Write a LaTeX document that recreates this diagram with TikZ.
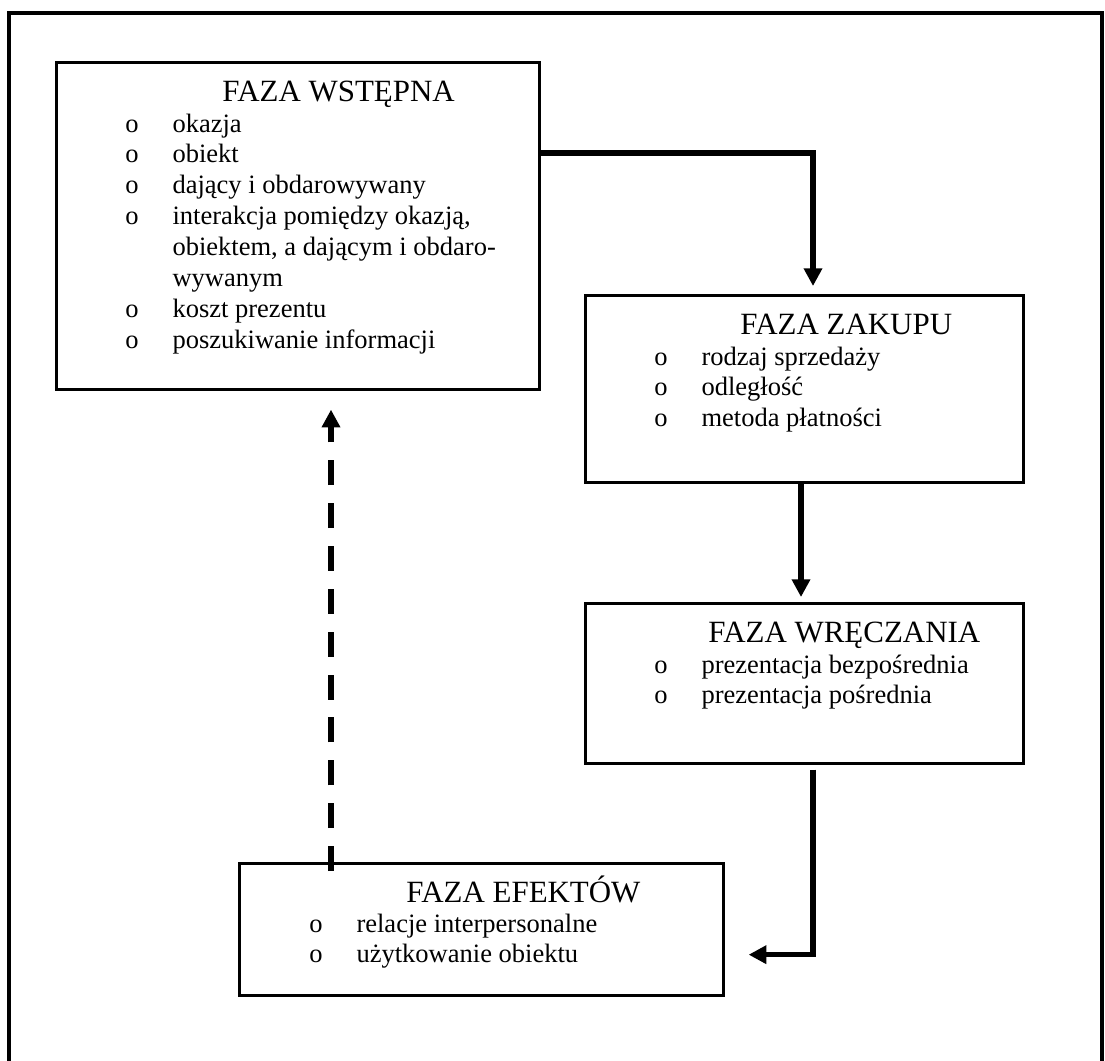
\documentclass[tikz,border=0pt]{standalone}
\usepackage{fontspec}
\setmainfont{Liberation Serif}
\usetikzlibrary{calc,arrows.meta}

\newcommand{\phasetitlefont}{\fontsize{14}{16}\selectfont}
\newcommand{\phaseitemfont}{\fontsize{12}{14}\selectfont}
\newenvironment{phaselist}{\begin{tabular}[t]{@{}p{21.3pt}@{}l@{}}}{\end{tabular}}

\begin{document}
\begin{tikzpicture}[
      x=0.4525pt,y=-0.4525pt,
      phase/.style 2 args={draw,line width=1.2pt,anchor=north west,inner sep=0pt,
        minimum width=#1*0.4525pt,minimum height=#2*0.4525pt},
      phasetitle/.style={anchor=base west,inner sep=0pt,font=\phasetitlefont},
      phaseitems/.style={anchor=base west,inner sep=0pt,font=\phaseitemfont},
      flow/.style={-{Triangle[length=8pt,width=8pt]},line width=2.3pt},
      back/.style={flow,dash pattern=on 11.3pt off 8.1pt},
      ]
    \useasboundingbox (0,0) rectangle (1105,1060);

    % Outer frame (open at the bottom)
    \draw[line width=1.8pt] (9,1070) -- (9,13) -- (1102,13) -- (1102,1070);

    % Position the boxes
    \node[phase={483}{327}] (wstepna) at (55,61) {};
    \node[phase={438}{187}] (zakupu) at (584,294) {};
    \node[phase={438}{160}] (wreczania) at (584,602) {};
    \node[phase={484}{132}] (efektow) at (238,862) {};

    % Titles and lists
    \node[phasetitle] (wstepnaT) at ($(wstepna.north west)+(167,40)$) {FAZA WSTĘPNA};
    \node[phaseitems] (wstepnaL) at ($(wstepna.north west)+(70,71)$) {\begin{phaselist}
      o & okazja\\
      o & obiekt\\
      o & dający i obdarowywany\\
      o & interakcja pomiędzy okazją,\\
        & obiektem, a dającym i obdaro-\\
        & wywanym\\
      o & koszt prezentu\\
      o & poszukiwanie informacji
    \end{phaselist}};

    \node[phasetitle] (zakupuT) at ($(zakupu.north west)+(156,40)$) {FAZA ZAKUPU};
    \node[phaseitems] (zakupuL) at ($(zakupu.north west)+(70,71)$) {\begin{phaselist}
      o & rodzaj sprzedaży\\
      o & odległość\\
      o & metoda płatności
    \end{phaselist}};

    \node[phasetitle] (wreczaniaT) at ($(wreczania.north west)+(124,40)$) {FAZA WRĘCZANIA};
    \node[phaseitems] (wreczaniaL) at ($(wreczania.north west)+(70,71)$) {\begin{phaselist}
      o & prezentacja bezpośrednia\\
      o & prezentacja pośrednia
    \end{phaselist}};

    \node[phasetitle] (efektowT) at ($(efektow.north west)+(168,40)$) {FAZA EFEKTÓW};
    \node[phaseitems] (efektowL) at ($(efektow.north west)+(71,70)$) {\begin{phaselist}
      o & relacje interpersonalne\\
      o & użytkowanie obiektu
    \end{phaselist}};

    % Draw the arrows
    \draw[flow] ($(wstepna.north east)+(0,92)$) -| ($(zakupu.north west)+(229,-8)$);
    \draw[flow] ($(zakupu.south west)+(217,0)$) -- ($(wreczania.north west)+(217,-5)$);
    \draw[flow] ($(wreczania.south west)+(229,5)$) |- ($(efektow.south east)+(24,-42)$);
    \draw[back] ($(efektow.north west)+(93,9)$) -- ($(wstepna.south west)+(276,19)$);

  \end{tikzpicture}
\end{document}
